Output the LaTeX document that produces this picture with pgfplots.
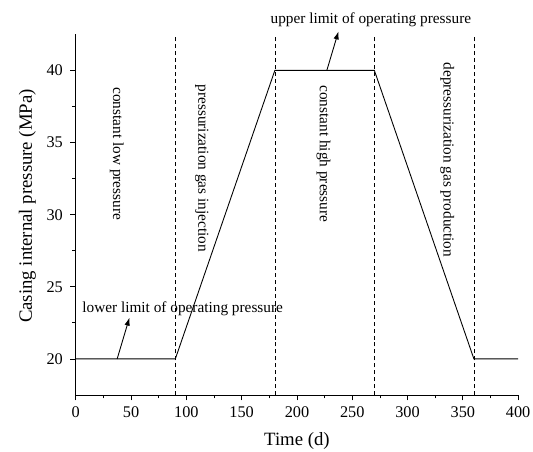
\documentclass[border=0pt]{standalone}
\usepackage{pgfplots}
\pgfplotsset{compat=1.18}
\usetikzlibrary{arrows.meta}
\usepackage{fontspec}
\setmainfont{Liberation Serif}
\begin{document}
\begin{tikzpicture}
\begin{axis}[
 scale only axis, width=446.5bp, height=364bp,
 xmin=0, xmax=400, ymin=17.5, ymax=42.5,
 axis x line*=bottom, axis y line*=left,
 xtick={0,50,...,400}, ytick={20,25,...,40},
 minor x tick num=1, minor y tick num=1,
 tick align=outside,
 major tick length=5.5bp, minor tick length=3.5bp,
 every tick/.style={black, line width=0.8pt},
 axis line style={line width=1pt},
 ticklabel style={font=\fontsize{16.5}{16.5}\selectfont},
 xticklabel style={yshift=-3bp},
 yticklabel style={xshift=-4bp},
 /pgf/number format/assume math mode=true,
 xlabel={Time (d)}, ylabel={Casing internal pressure (MPa)},
 label style={font=\fontsize{19}{19}\selectfont},
 xlabel style={yshift=-8bp},
 ylabel style={at={(ticklabel cs:0.524)}, yshift=4bp},
 clip=false,
]
\addplot[black, line width=0.9pt] coordinates {(0,20) (90,20) (180,40) (270,40) (360,20) (400,20)};
\addplot[black, line width=0.7pt, dash pattern=on 4bp off 3bp] coordinates {(90,17.5) (90,42.5)};
\addplot[black, line width=0.7pt, dash pattern=on 4bp off 3bp] coordinates {(180,17.5) (180,42.5)};
\addplot[black, line width=0.7pt, dash pattern=on 4bp off 3bp] coordinates {(270,17.5) (270,42.5)};
\addplot[black, line width=0.7pt, dash pattern=on 4bp off 3bp] coordinates {(360,17.5) (360,42.5)};
\addplot[black, line width=0.9pt, -{Latex[length=8bp,width=5.5bp]}] coordinates {(37.4,20) (48.5,22.86)};
\addplot[black, line width=0.9pt, -{Latex[length=8bp,width=5.5bp]}] coordinates {(227,40) (237.5,42.7)};
\node[rotate=-90, anchor=west, font=\fontsize{15.5}{15.5}\selectfont] at (axis cs:37,39.06) {constant low pressure};
\node[rotate=-90, anchor=west, font=\fontsize{15.5}{15.5}\selectfont] at (axis cs:114,39.26) {pressurization gas injection};
\node[rotate=-90, anchor=west, font=\fontsize{15.5}{15.5}\selectfont] at (axis cs:224,39.2) {constant high pressure};
\node[rotate=-90, anchor=west, font=\fontsize{15.5}{15.5}\selectfont] at (axis cs:336,40.78) {depressurization gas production};
\node[anchor=west, inner sep=0pt, font=\fontsize{15.5}{15.5}\selectfont] at (axis cs:5.8,23.48) {lower limit of operating pressure};
\node[anchor=west, inner sep=0pt, font=\fontsize{15.5}{15.5}\selectfont] at (axis cs:176,43.5) {upper limit of operating pressure};
\end{axis}
\pgfresetboundingbox
\path ([xshift=-76.5bp,yshift=-57.3bp]current axis.south west) rectangle ([xshift=15bp,yshift=34.7bp]current axis.north east);
\end{tikzpicture}
\end{document}
